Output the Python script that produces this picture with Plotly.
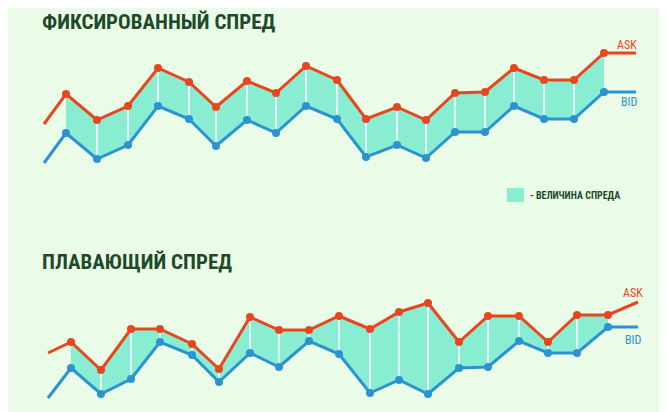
import plotly.graph_objects as go

# time positions of the points (line start, markers, line end)
fix_x = [36, 58, 89, 120, 150, 181, 208, 239, 268, 298, 329, 358, 389, 418, 447, 477, 506, 536, 566, 596, 628]
flt_x = [40, 63, 93, 123, 152, 184, 211, 242, 271, 301, 331, 362, 391, 420, 451, 480, 511, 540, 569, 600, 630]

# values read as (412 - pixel y)
fix_ask = [288, 318, 292, 306, 344, 330, 305, 331, 319, 346, 332, 293, 305, 292, 319, 320, 344, 332, 332, 359, 359]
fix_bid = [249, 279, 253, 267, 306, 293, 266, 292, 279, 306, 293, 255, 267, 254, 280, 280, 306, 293, 293, 320, 320]
flt_ask = [59, 70, 42, 83, 83, 68, 43, 95, 82, 82, 96, 83, 100, 109, 70, 96, 96, 70, 97, 97, 110]
flt_bid = [14, 44, 18, 33, 70, 57, 30, 59, 45, 71, 58, 19, 32, 18, 44, 45, 71, 59, 59, 85, 85]

RED = '#e8461e'
BLUE = '#2b93d1'
FILL = 'rgba(120,235,205,0.85)'
GREEN = '#1f4a2a'
BG = '#eafbe8'
SH = 8 / 412  # vertical correction

fig = go.Figure()


def add_chart(xs, ask, bid, xname, yname):
    mid = xs[1:-1]
    kw = dict(xaxis=xname, yaxis=yname, hoverinfo='skip')
    fig.add_trace(go.Scatter(x=mid, y=bid[1:-1], mode='lines', line=dict(width=0), **kw))
    fig.add_trace(go.Scatter(x=mid, y=ask[1:-1], mode='lines', line=dict(width=0), fill='tonexty',
                             fillcolor=FILL, **kw))
    # white separators at each interior point
    vx, vy = [], []
    for i in range(2, len(xs) - 2):
        vx += [xs[i], xs[i], None]
        vy += [bid[i], ask[i], None]
    fig.add_trace(go.Scatter(x=vx, y=vy, mode='lines', line=dict(color='white', width=1.5), **kw))
    for vals, col in [(ask, RED), (bid, BLUE)]:
        fig.add_trace(go.Scatter(x=xs, y=vals, mode='lines', line=dict(color=col, width=3), **kw))
        fig.add_trace(go.Scatter(x=mid, y=vals[1:-1], mode='markers', marker=dict(color=col, size=8), **kw))


add_chart(fix_x, fix_ask, fix_bid, 'x', 'y')
add_chart(flt_x, flt_ask, flt_bid, 'x2', 'y2')

fig.update_layout(
    width=667, height=412, margin=dict(l=0, r=0, t=0, b=0),
    paper_bgcolor=BG, plot_bgcolor=BG, showlegend=False,
    xaxis=dict(range=[0, 667], visible=False),
    xaxis2=dict(range=[0, 667], visible=False, anchor='y2'),
    yaxis=dict(range=[412 - 180, 412 - 40], domain=[1 - 180 / 412 + SH, 1 - 40 / 412 + SH], visible=False),
    yaxis2=dict(range=[0, 130], domain=[SH, 130 / 412 + SH], visible=False),
    font=dict(family='Liberation Sans Narrow, Roboto Condensed, Roboto, sans-serif'),
)

ann = [
    dict(text='<b>ФИКСИРОВАННЫЙ СПРЕД</b>', x=32 / 667, y=1 - 22 / 412, size=21, color=GREEN),
    dict(text='<b>ПЛАВАЮЩИЙ СПРЕД</b>', x=32 / 667, y=1 - 262 / 412, size=21, color=GREEN),
    dict(text='<b>- ВЕЛИЧИНА СПРЕДА</b>', x=520 / 667, y=1 - 195 / 412, size=10, color=GREEN),
    dict(text='ASK', x=607 / 667, y=1 - 45 / 412, size=12, color=RED),
    dict(text='BID', x=611 / 667, y=1 - 102 / 412, size=12, color=BLUE),
    dict(text='ASK', x=613 / 667, y=1 - 293 / 412, size=12, color=RED),
    dict(text='BID', x=615 / 667, y=1 - 340 / 412, size=12, color=BLUE),
]
for a in ann:
    fig.add_annotation(text=a['text'], x=a['x'], y=a['y'] + SH, xref='paper', yref='paper', showarrow=False,
                       xanchor='left', yanchor='middle', font=dict(size=a['size'], color=a['color']))

fig.add_shape(type='rect', xref='paper', yref='paper', x0=499 / 667, x1=516 / 667,
              y0=1 - 202 / 412 + SH, y1=1 - 188 / 412 + SH, fillcolor=FILL, line=dict(width=0))

fig.write_html('out.html')
